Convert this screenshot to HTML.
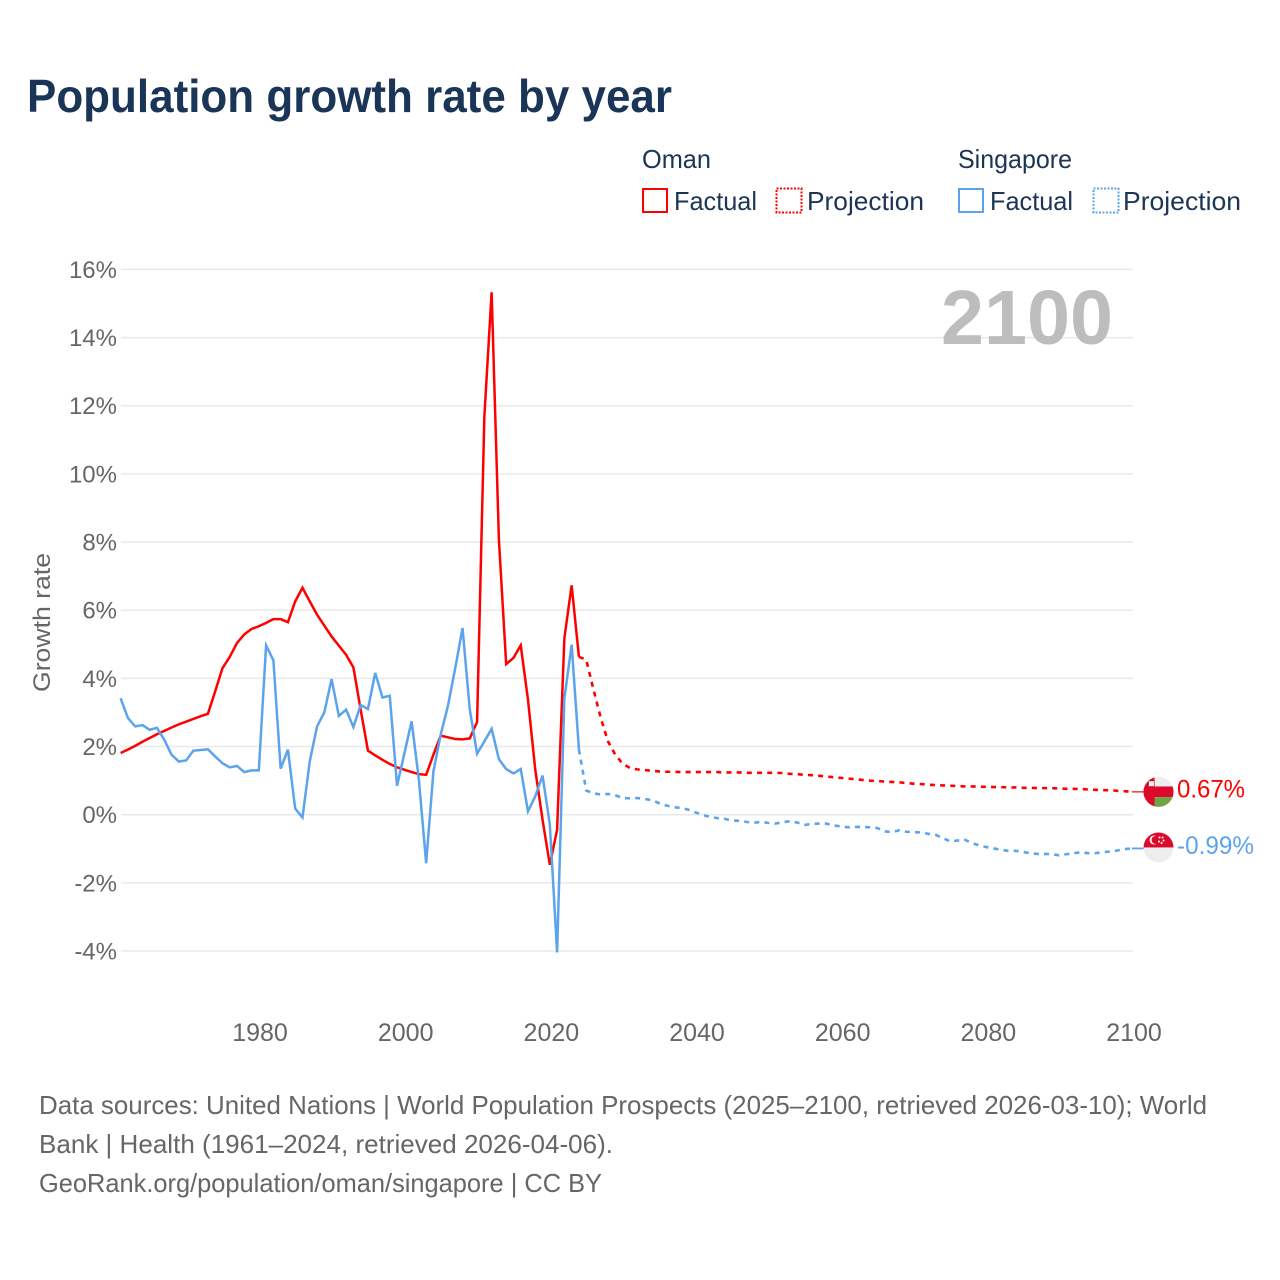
<!DOCTYPE html>
<html lang="en">
<head>
<meta charset="utf-8">
<title>Population growth rate by year</title>
<style>
  html, body { margin: 0; padding: 0; background: #fff; }
  svg { display: block; font-family: "Liberation Sans", sans-serif; }
  .legend-text { fill: #1c3553; font-size: 26px; }
  .foot { fill: #666; font-size: 26px; }
</style>
</head>
<body>
<svg id="chart" xmlns="http://www.w3.org/2000/svg" width="1280" height="1280" viewBox="0 0 1280 1280">
  <rect width="1280" height="1280" fill="#fff"/>
  <text x="27" y="112" font-size="46" font-weight="700" fill="#1a3557" textLength="645" lengthAdjust="spacingAndGlyphs">Population growth rate by year</text>

  <g>
    <text class="legend-text" x="642" y="168" textLength="69" lengthAdjust="spacingAndGlyphs">Oman</text>
    <text class="legend-text" x="958" y="168" textLength="114" lengthAdjust="spacingAndGlyphs">Singapore</text>

    <rect x="643" y="189" width="24" height="23" fill="none" stroke="#ff0000" stroke-width="2"/>
    <text class="legend-text" x="674" y="210" textLength="83" lengthAdjust="spacingAndGlyphs">Factual</text>
    <rect x="776.5" y="188.5" width="25" height="24" fill="none" stroke="#ff0000" stroke-width="2" stroke-dasharray="2 1.5"/>
    <text class="legend-text" x="807" y="210" textLength="117" lengthAdjust="spacingAndGlyphs">Projection</text>

    <rect x="959" y="189" width="24" height="23" fill="none" stroke="#5ba4ec" stroke-width="2"/>
    <text class="legend-text" x="990" y="210" textLength="83" lengthAdjust="spacingAndGlyphs">Factual</text>
    <rect x="1093.5" y="188.5" width="25" height="24" fill="none" stroke="#5ba4ec" stroke-width="2" stroke-dasharray="2 1.5"/>
    <text class="legend-text" x="1123" y="210" textLength="118" lengthAdjust="spacingAndGlyphs">Projection</text>
  </g>

  <text transform="translate(50,622.5) rotate(-90)" text-anchor="middle" font-size="24" fill="#666" textLength="139" lengthAdjust="spacingAndGlyphs">Growth rate</text>

  <g id="grid"></g>
  <g id="yticks"></g>
  <g id="xticks"></g>

  <text x="1113" y="344" text-anchor="end" font-size="77" font-weight="700" fill="#bdbdbd" textLength="172" lengthAdjust="spacingAndGlyphs">2100</text>

  <g id="series"></g>

  <g id="oman-end">
    <clipPath id="clip-oman"><circle cx="0" cy="0" r="15"/></clipPath>
    <g clip-path="url(#clip-oman)">
      <rect x="-15" y="-15" width="30" height="30" fill="#eeeeee"/>
      <rect x="-15" y="-5.4" width="30" height="10.7" fill="#db0a2c"/>
      <rect x="-4" y="5.3" width="19" height="10" fill="#6da544"/>
      <rect x="-15" y="-15" width="11" height="30" fill="#db0a2c"/>
      <rect x="-9.7" y="-10.7" width="5" height="5" fill="#f4f4f4"/>
    </g>
  </g>
  <g id="singapore-end">
    <clipPath id="clip-sg"><circle cx="0" cy="0" r="15"/></clipPath>
    <g clip-path="url(#clip-sg)">
      <rect x="-15" y="-15" width="30" height="30" fill="#eeeeee"/>
      <rect x="-15" y="-15" width="30" height="15" fill="#db0a2c"/>
      <circle cx="-4.5" cy="-7.5" r="4.5" fill="#fff"/>
      <circle cx="-3" cy="-7.5" r="4" fill="#db0a2c"/>
      <circle cx="1" cy="-10" r="1" fill="#fff"/>
      <circle cx="4" cy="-10" r="1" fill="#fff"/>
      <circle cx="5" cy="-7" r="1" fill="#fff"/>
      <circle cx="0.5" cy="-6" r="1" fill="#fff"/>
      <circle cx="3" cy="-4.5" r="1" fill="#fff"/>
    </g>
  </g>
  <text id="oman-value" x="1177" y="797" font-size="25" fill="#ff0000" textLength="68" lengthAdjust="spacingAndGlyphs"></text>
  <text id="singapore-value" x="1177" y="854" font-size="25" fill="#5ba4ec" textLength="77" lengthAdjust="spacingAndGlyphs"></text>

  <g>
    <text class="foot" x="39" y="1114" textLength="1168" lengthAdjust="spacingAndGlyphs">Data sources: United Nations | World Population Prospects (2025–2100, retrieved 2026-03-10); World</text>
    <text class="foot" x="39" y="1153" textLength="574" lengthAdjust="spacingAndGlyphs">Bank | Health (1961–2024, retrieved 2026-04-06).</text>
    <text class="foot" x="39" y="1192" textLength="563" lengthAdjust="spacingAndGlyphs">GeoRank.org/population/oman/singapore | CC BY</text>
  </g>
</svg>

<script>
const yTickValues = [16, 14, 12, 10, 8, 6, 4, 2, 0, -2, -4];
const yTickLabels = ['16%', '14%', '12%', '10%', '8%', '6%', '4%', '2%', '0%', '-2%', '-4%'];
const xTickValues = [1980, 2000, 2020, 2040, 2060, 2080, 2100];
const xTickLabels = ['1980', '2000', '2020', '2040', '2060', '2080', '2100'];

const factualStartYear = 1961;
const projectionStartYear = 2024;

const omanFactual = [
  1.81, 1.91, 2.02, 2.14, 2.25, 2.36, 2.46, 2.56, 2.65, 2.73,
  2.81, 2.89, 2.96, 3.62, 4.30, 4.63, 5.04, 5.29, 5.45, 5.53,
  5.63, 5.74, 5.74, 5.65, 6.26, 6.66, 6.26, 5.87, 5.55, 5.23,
  4.96, 4.69, 4.32, 3.08, 1.88, 1.74, 1.61, 1.49, 1.39, 1.32,
  1.25, 1.19, 1.17, 1.76, 2.32, 2.27, 2.22, 2.21, 2.24, 2.72,
  11.68, 15.33, 8.07, 4.42, 4.60, 4.97, 3.37, 1.32, -0.15, -1.47,
  -0.44, 5.18, 6.73, 4.63
];
const omanProjection = [
  4.63, 4.55, 3.67, 2.84, 2.15, 1.76, 1.50, 1.37, 1.33, 1.31,
  1.29, 1.27, 1.26, 1.26, 1.25, 1.25, 1.25, 1.25, 1.25, 1.25,
  1.24, 1.24, 1.24, 1.23, 1.23, 1.23, 1.23, 1.23, 1.22, 1.20,
  1.19, 1.17, 1.16, 1.14, 1.12, 1.10, 1.08, 1.06, 1.04, 1.02,
  1.00, 0.99, 0.97, 0.96, 0.95, 0.93, 0.91, 0.90, 0.88, 0.87,
  0.86, 0.85, 0.84, 0.83, 0.83, 0.82, 0.82, 0.81, 0.81, 0.80,
  0.80, 0.79, 0.79, 0.78, 0.78, 0.78, 0.77, 0.76, 0.76, 0.75,
  0.74, 0.73, 0.72, 0.72, 0.70, 0.69, 0.67
];
const singaporeFactual = [
  3.42, 2.84, 2.59, 2.63, 2.49, 2.55, 2.20, 1.76, 1.56, 1.59,
  1.88, 1.90, 1.92, 1.71, 1.51, 1.39, 1.43, 1.25, 1.30, 1.30,
  4.97, 4.53, 1.35, 1.91, 0.18, -0.08, 1.56, 2.59, 3.00, 3.98,
  2.90, 3.08, 2.57, 3.22, 3.10, 4.16, 3.44, 3.49, 0.85, 1.79,
  2.74, 1.03, -1.42, 1.27, 2.35, 3.20, 4.30, 5.48, 3.08, 1.79,
  2.15, 2.52, 1.63, 1.34, 1.21, 1.34, 0.10, 0.54, 1.15, -0.29,
  -4.04, 3.42, 4.99, 1.91
];
const singaporeProjection = [
  1.91, 0.71, 0.63, 0.59, 0.61, 0.57, 0.49, 0.48, 0.49, 0.46,
  0.43, 0.34, 0.27, 0.22, 0.20, 0.15, 0.07, -0.01, -0.06, -0.10,
  -0.12, -0.17, -0.18, -0.21, -0.24, -0.21, -0.24, -0.26, -0.22, -0.19,
  -0.23, -0.30, -0.27, -0.26, -0.26, -0.32, -0.34, -0.37, -0.36, -0.36,
  -0.37, -0.39, -0.49, -0.51, -0.46, -0.50, -0.51, -0.52, -0.56, -0.59,
  -0.68, -0.78, -0.76, -0.73, -0.83, -0.90, -0.95, -0.99, -1.03, -1.06,
  -1.06, -1.09, -1.13, -1.15, -1.15, -1.16, -1.19, -1.16, -1.13, -1.10,
  -1.13, -1.13, -1.10, -1.08, -1.05, -1.01, -0.99
];
const omanEndLabel = '0.67%';
const singaporeEndLabel = '-0.99%';

const NS = 'http://www.w3.org/2000/svg';
function xScale(year) { return 120.6 + (year - 1961) * 7.275; }
function xTickPos(year) { return 1134 - (2100 - year) * 7.283; }
function yScale(value) { return 814.7 - value * 34.08; }
function make(tag, parent) {
  const el = document.createElementNS(NS, tag);
  parent.appendChild(el);
  return el;
}

const gridGroup = document.getElementById('grid');
const yTickGroup = document.getElementById('yticks');
yTickValues.forEach(function (v, i) {
  const line = make('line', gridGroup);
  
  
  line.setAttribute('x1', 121);
  line.setAttribute('x2', 1133);
  line.setAttribute('y1', yScale(v));
  line.setAttribute('y2', yScale(v));
  line.setAttribute('stroke', '#e9e9e9');
  line.setAttribute('stroke-width', '1.5');
  const label = make('text', yTickGroup);
  
  
  label.setAttribute('x', 117);
  label.setAttribute('y', yScale(v) + 8.5);
  label.setAttribute('text-anchor', 'end');
  label.setAttribute('font-size', '24');
  label.setAttribute('fill', '#666');
  label.textContent = yTickLabels[i];
});

const xTickGroup = document.getElementById('xticks');
xTickValues.forEach(function (v, i) {
  const label = make('text', xTickGroup);
  
  
  label.setAttribute('x', xTickPos(v));
  label.setAttribute('y', 1041);
  label.setAttribute('text-anchor', 'middle');
  label.setAttribute('font-size', '25');
  label.setAttribute('fill', '#666');
  label.textContent = xTickLabels[i];
});

function pathFrom(values, startYear) {
  return values.map(function (v, i) {
    return (i ? 'L' : 'M') + xScale(startYear + i).toFixed(2) + ' ' + yScale(v).toFixed(2);
  }).join(' ');
}
const seriesGroup = document.getElementById('series');

const omanSolidPath = make('path', seriesGroup);


omanSolidPath.setAttribute('d', pathFrom(omanFactual, factualStartYear));
omanSolidPath.setAttribute('fill', 'none');
omanSolidPath.setAttribute('stroke', '#ff0000');
omanSolidPath.setAttribute('stroke-width', '2.5');

const omanDashPath = make('path', seriesGroup);


omanDashPath.setAttribute('d', pathFrom(omanProjection, projectionStartYear));
omanDashPath.setAttribute('fill', 'none');
omanDashPath.setAttribute('stroke', '#ff0000');
omanDashPath.setAttribute('stroke-width', '2.6');
omanDashPath.setAttribute('stroke-dasharray', '5 5.2');

const sgSolidPath = make('path', seriesGroup);


sgSolidPath.setAttribute('d', pathFrom(singaporeFactual, factualStartYear));
sgSolidPath.setAttribute('fill', 'none');
sgSolidPath.setAttribute('stroke', '#5ba4ec');
sgSolidPath.setAttribute('stroke-width', '2.5');

const sgDashPath = make('path', seriesGroup);


sgDashPath.setAttribute('d', pathFrom(singaporeProjection, projectionStartYear));
sgDashPath.setAttribute('fill', 'none');
sgDashPath.setAttribute('stroke', '#5ba4ec');
sgDashPath.setAttribute('stroke-width', '2.6');
sgDashPath.setAttribute('stroke-dasharray', '5 5.2');

const endYear = projectionStartYear + omanProjection.length - 1;
const omanEndY = yScale(omanProjection[omanProjection.length - 1]);
const sgEndY = yScale(singaporeProjection[singaporeProjection.length - 1]);

const omanLeader = make('line', seriesGroup);


omanLeader.setAttribute('x1', xScale(endYear));
omanLeader.setAttribute('x2', xScale(endYear) + 12);
omanLeader.setAttribute('y1', omanEndY);
omanLeader.setAttribute('y2', omanEndY);
omanLeader.setAttribute('stroke', '#ff0000');
omanLeader.setAttribute('stroke-width', '1.2');

const sgLeader = make('line', seriesGroup);


sgLeader.setAttribute('x1', xScale(endYear));
sgLeader.setAttribute('x2', xScale(endYear) + 12);
sgLeader.setAttribute('y1', sgEndY);
sgLeader.setAttribute('y2', sgEndY);
sgLeader.setAttribute('stroke', '#5ba4ec');
sgLeader.setAttribute('stroke-width', '1.8');

document.getElementById('oman-end').setAttribute('transform', 'translate(' + (xScale(endYear) + 26.7) + ',' + omanEndY + ')');
document.getElementById('singapore-end').setAttribute('transform', 'translate(' + (xScale(endYear) + 26.7) + ',' + (sgEndY - 1) + ')');

const omanValue = document.getElementById('oman-value');
omanValue.textContent = omanEndLabel;
omanValue.setAttribute('y', omanEndY + 5.5);
const singaporeValue = document.getElementById('singapore-value');
singaporeValue.textContent = singaporeEndLabel;
singaporeValue.setAttribute('y', sgEndY + 5.5);
</script>
</body>
</html>
